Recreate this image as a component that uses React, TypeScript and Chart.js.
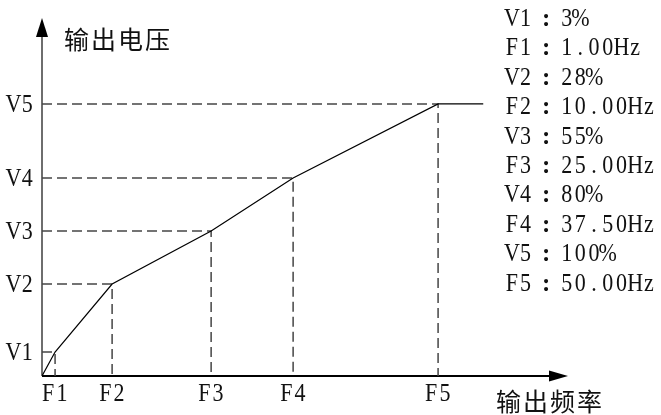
import React, { useEffect, useRef } from 'react';
import { Chart, registerables } from 'chart.js';

Chart.register(...registerables);

// Breakpoint names
const freqLabels = ['F1', 'F2', 'F3', 'F4', 'F5'];
const voltLabels = ['V1', 'V2', 'V3', 'V4', 'V5'];
// Schematic positions of the breakpoints as drawn (diagram not to scale), in % of F5 / V5
const freqPos = [3.3, 17.7, 42.7, 63.4, 100];
const voltPos = [8.8, 33.8, 53.3, 72.8, 100];
// Parameter values listed at the right
const voltValues = ['3%', '28%', '55%', '80%', '100%'];
const freqValues = ['1.00Hz', '10.00Hz', '25.00Hz', '37.50Hz', '50.00Hz'];
// Extent of the flat part after F5 and of the axis arrows (same schematic units)
const lineEndPos = 111.4;
const xAxisEnd = 132.8;
const yAxisEnd = 131.6;
const yAxisTitle = '输出电压';
const xAxisTitle = '输出频率';

const CELL = 13.7;
const LATIN_FONT = '25px "Liberation Serif", "DejaVu Serif", serif';
const CJK_FONT = '25px "Noto Sans CJK SC", sans-serif';

function isWide(ch: string) {
  return ch.charCodeAt(0) >= 0x2e80;
}

function drawCells(ctx: CanvasRenderingContext2D, text: string, x: number, y: number, cell = CELL) {
  let cx = x;
  for (const ch of text) {
    const wide = isWide(ch);
    const w = wide ? 2 * cell : cell;
    ctx.save();
    ctx.textAlign = 'center';
    ctx.textBaseline = 'alphabetic';
    if (ch === '：') {
      ctx.font = 'bold ' + LATIN_FONT;
      ctx.fillText(':', cx + w / 2, y);
    } else if (wide) {
      ctx.font = CJK_FONT;
      ctx.fillText(ch, cx + w / 2, y);
    } else {
      ctx.font = LATIN_FONT;
      ctx.translate(cx + w / 2, y);
      ctx.scale(0.88, 1);
      ctx.fillText(ch, 0, 0);
    }
    ctx.restore();
    cx += w;
  }
  return cx - x;
}

function cellsWidth(text: string, cell = CELL) {
  let w = 0;
  for (const ch of text) w += isWide(ch) ? 2 * cell : cell;
  return w;
}

const diagramPlugin = {
  id: 'vfDiagram',
  beforeDatasetsDraw(chart: any) {
    const { ctx, scales } = chart;
    const xs = scales.x;
    const ys = scales.y;
    const x0 = xs.getPixelForValue(0);
    const y0 = ys.getPixelForValue(0);
    const yTop = ys.getPixelForValue(yAxisEnd);
    const xRight = xs.getPixelForValue(xAxisEnd);
    ctx.save();
    // Y axis
    ctx.strokeStyle = '#6e6e6e';
    ctx.lineWidth = 2;
    ctx.beginPath();
    ctx.moveTo(x0, y0);
    ctx.lineTo(x0, yTop + 14);
    ctx.stroke();
    ctx.fillStyle = '#000';
    ctx.beginPath();
    ctx.moveTo(x0, yTop);
    ctx.lineTo(x0 - 6, yTop + 19);
    ctx.lineTo(x0 + 6, yTop + 19);
    ctx.closePath();
    ctx.fill();
    // X axis
    ctx.strokeStyle = '#000';
    ctx.lineWidth = 2;
    ctx.beginPath();
    ctx.moveTo(x0, y0);
    ctx.lineTo(xRight - 14, y0);
    ctx.stroke();
    ctx.beginPath();
    ctx.moveTo(xRight, y0);
    ctx.lineTo(xRight - 19, y0 - 5.5);
    ctx.lineTo(xRight - 19, y0 + 5.5);
    ctx.closePath();
    ctx.fill();
    ctx.restore();
  },
  afterDatasetsDraw(chart: any) {
    const { ctx, scales } = chart;
    const xs = scales.x;
    const ys = scales.y;
    const x0 = xs.getPixelForValue(0);
    const y0 = ys.getPixelForValue(0);
    ctx.save();
    ctx.fillStyle = '#111';
    // Y tick labels
    voltLabels.forEach((lab, i) => {
      const py = ys.getPixelForValue(voltPos[i]);
      const w = cellsWidth(lab);
      drawCells(ctx, lab, x0 - 8 - w, py + 8);
    });
    // X tick labels
    freqLabels.forEach((lab, i) => {
      const px = xs.getPixelForValue(freqPos[i]);
      const w = cellsWidth(lab);
      drawCells(ctx, lab, px - w / 2, y0 + 25);
    });
    // Axis titles
    drawCells(ctx, yAxisTitle, x0 + 21, ys.getPixelForValue(yAxisEnd) + 31, 13.5);
    drawCells(ctx, xAxisTitle, xs.getPixelForValue(xAxisEnd) - 73, y0 + 35, 13.5);
    // Parameter list
    let line = 0;
    voltLabels.forEach((lab, i) => {
      drawCells(ctx, lab + '：' + voltValues[i], 505, 26 + 29.4 * line++);
      drawCells(ctx, freqLabels[i] + '：' + freqValues[i], 505, 26 + 29.4 * line++);
    });
    ctx.restore();
  },
};

export default function App() {
  const canvasRef = useRef<HTMLCanvasElement | null>(null);

  useEffect(() => {
    if (!canvasRef.current) return;
    const guideSets = freqPos.map((fx, i) => ({
      data: [
        { x: 0, y: voltPos[i] },
        { x: fx, y: voltPos[i] },
        { x: fx, y: 0 },
      ],
      borderColor: '#454545',
      borderWidth: 1.5,
      borderDash: [10, 5],
      showLine: true,
      pointRadius: 0,
      fill: false,
      tension: 0,
      order: 2,
    }));
    const curve = [{ x: 0, y: 0 }, ...freqPos.map((fx, i) => ({ x: fx, y: voltPos[i] })), { x: lineEndPos, y: voltPos[4] }];
    const chart = new Chart(canvasRef.current, {
      type: 'scatter',
      data: {
        datasets: [
          ...guideSets,
          {
            data: curve,
            borderColor: '#000',
            borderWidth: 1.2,
            showLine: true,
            pointRadius: 0,
            fill: false,
            tension: 0,
            order: 1,
          },
        ],
      },
      options: {
        animation: false,
        responsive: true,
        maintainAspectRatio: false,
        layout: { padding: { left: 42, right: 93, top: 18, bottom: 39 } },
        plugins: { legend: { display: false }, tooltip: { enabled: false }, title: { display: false } },
        events: [],
        scales: {
          x: { type: 'linear', min: 0, max: xAxisEnd, display: false },
          y: { type: 'linear', min: 0, max: yAxisEnd, display: false },
        },
      },
      plugins: [diagramPlugin],
    });
    const fonts = (document as any).fonts;
    if (fonts && fonts.load) {
      Promise.all([fonts.load(LATIN_FONT), fonts.load(CJK_FONT, '输出电压频率')])
        .then(() => chart.draw())
        .catch(() => {});
    }
    return () => chart.destroy();
  }, []);

  return (
    <div style={{ position: 'fixed', left: 0, top: 0, width: 661, height: 415, background: '#fff' }}>
      <canvas ref={canvasRef} />
    </div>
  );
}
